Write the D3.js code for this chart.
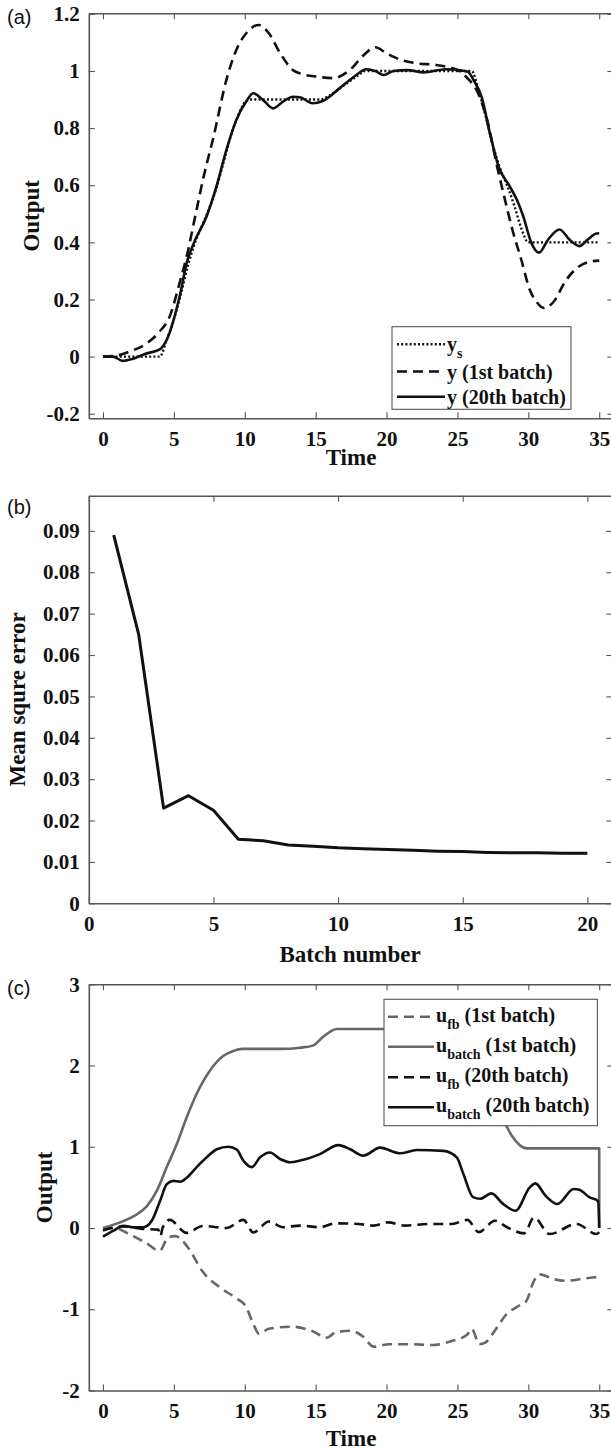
<!DOCTYPE html>
<html><head><meta charset="utf-8">
<script src="https://cdn.jsdelivr.net/npm/d3@7"></script>
<style>body{margin:0;background:#fff}svg{display:block}
.tick text{font-family:'Liberation Serif','Times New Roman',serif;font-weight:bold;font-size:21px}</style>
</head><body>
<script>
// ---------- (a) output tracking: [time, value]
const ysRef = [[0,0],[4,0],[4.5,0.06],[5,0.13],[5.5,0.22],[6,0.32],[6.5,0.4],[7,0.46],[7.5,0.52],[8,0.59],[8.5,0.68],[9,0.77],[9.5,0.84],[10,0.89],[10.4,0.9],[15.3,0.9],[16,0.915],[17,0.95],[18,0.985],[18.5,1],[26,1],[26.5,0.93],[27,0.84],[27.5,0.74],[28,0.66],[28.5,0.6],[29,0.53],[29.5,0.45],[30,0.4],[35,0.4]];
const yBatch1 = [[0,0],[1,0.004],[1.9,0.018],[3.1,0.047],[4,0.088],[4.7,0.14],[5.4,0.257],[5.9,0.35],[6.5,0.49],[7.1,0.63],[7.8,0.77],[8.7,0.968],[9.4,1.073],[10.1,1.132],[11,1.161],[11.7,1.132],[12.5,1.062],[13.4,1.003],[14,0.99],[15.1,0.98],[16.2,0.975],[17.4,1.003],[18.4,1.056],[19.2,1.083],[20,1.062],[21,1.039],[22.1,1.027],[23.5,1.021],[25,1.003],[25.7,0.975],[26.4,0.928],[27.1,0.828],[27.8,0.665],[28.3,0.56],[28.9,0.44],[29.5,0.34],[30.1,0.234],[30.6,0.19],[31.1,0.17],[31.8,0.193],[32.6,0.263],[33.4,0.309],[34.4,0.333],[35,0.336]];
const yBatch20 = [[0,0],[0.7,0],[1.4,-0.015],[2.1,-0.008],[3,0.01],[4,0.025],[4.6,0.07],[5.1,0.15],[5.45,0.22],[5.9,0.327],[6.5,0.408],[7.3,0.49],[8,0.595],[8.7,0.723],[9.4,0.828],[10.1,0.893],[10.6,0.922],[11.3,0.898],[12,0.869],[12.7,0.893],[13.4,0.91],[13.9,0.908],[14.8,0.887],[15.5,0.895],[16.7,0.94],[17.7,0.98],[18.6,1.006],[19.2,1.0],[19.8,0.986],[20.5,1.0],[21.5,1.003],[22.6,0.995],[24.2,1.006],[25.7,0.998],[26.2,0.963],[26.7,0.91],[27.3,0.78],[27.9,0.665],[28.7,0.595],[29.2,0.548],[29.65,0.49],[30.2,0.4],[30.75,0.364],[31.4,0.41],[32.2,0.445],[32.9,0.41],[33.6,0.387],[34.2,0.41],[34.8,0.431],[35,0.432]];
const timeTicks = [0,5,10,15,20,25,30,35];
const outputTicksA = [-0.2,0,0.2,0.4,0.6,0.8,1,1.2];

// ---------- (b) mean square error per batch
const batchNumbers = d3.range(1, 21);
const mseValues = [0.089,0.065,0.023,0.026,0.0225,0.0155,0.0151,0.0141,0.0138,0.0134,0.0132,0.013,0.0128,0.0126,0.0125,0.0123,0.0122,0.0122,0.0121,0.0121];
const batchTicks = [0,5,10,15,20];
const mseTicks = [0,0.01,0.02,0.03,0.04,0.05,0.06,0.07,0.08,0.09];

// ---------- (c) control inputs: [time, value]
const uFb1 = [[0,0],[0.75,0],[2,-0.09],[3,-0.18],[4,-0.28],[4.6,-0.115],[5.1,-0.1],[6,-0.24],[7,-0.53],[8.4,-0.75],[9.5,-0.875],[10.06,-0.96],[10.6,-1.18],[11,-1.3],[11.7,-1.24],[13.35,-1.215],[14.7,-1.265],[15.8,-1.35],[16.4,-1.285],[17.5,-1.265],[18.3,-1.33],[19.1,-1.46],[20.2,-1.43],[21.6,-1.43],[23.2,-1.44],[24.6,-1.39],[25.7,-1.31],[26,-1.24],[26.55,-1.43],[26.96,-1.41],[27.65,-1.26],[28.47,-1.06],[29.3,-0.96],[29.85,-0.9],[30.4,-0.65],[30.8,-0.57],[31.8,-0.63],[32.6,-0.65],[34,-0.62],[35,-0.6]];
const uBatch1 = [[0,0],[1.2,0.07],[2.4,0.17],[3.1,0.27],[3.8,0.46],[4.5,0.75],[5.2,1.03],[5.9,1.36],[6.6,1.65],[7.55,1.94],[8.5,2.12],[9.2,2.18],[9.8,2.205],[12.5,2.205],[13.9,2.22],[14.8,2.245],[15.5,2.35],[16.5,2.45],[26.3,2.45],[26.8,2.35],[27.3,2.1],[27.8,1.7],[28.2,1.38],[28.9,1.12],[29.4,1.02],[29.9,0.98],[35,0.98],[35,0]];
const uFb20 = [[0,-0.03],[1.44,0.02],[2.8,-0.01],[3.9,-0.02],[4.05,-0.1],[4.2,0.0],[4.7,0.1],[5.9,-0.06],[7.05,0.025],[8.7,0],[9.9,0.1],[10.6,-0.055],[11.7,0.08],[12.7,0.01],[13.9,0.03],[15.3,0.01],[16.4,0.057],[18,0.05],[19.1,0.03],[20.1,0.07],[21.3,0.03],[23,0.05],[24.6,0.05],[25.7,0.1],[26.5,-0.05],[27.65,0.09],[28.5,0.01],[29.7,-0.066],[30.4,0.13],[31.5,-0.074],[33.4,0.05],[34.8,-0.074],[35,-0.05]];
const uBatch20 = [[0,-0.107],[0.74,-0.033],[1.44,0.028],[2.15,0.008],[2.85,0.01],[3.44,0.09],[4.03,0.336],[4.5,0.54],[4.97,0.58],[5.44,0.57],[5.91,0.62],[6.61,0.75],[7.32,0.87],[8.03,0.97],[8.85,1.0],[9.44,0.965],[9.9,0.83],[10.5,0.75],[11.08,0.87],[11.78,0.93],[12.49,0.85],[13.2,0.81],[13.9,0.83],[15.3,0.91],[16.6,1.02],[17.43,0.97],[18.36,0.89],[19.54,0.99],[20.95,0.92],[22.13,0.96],[24,0.95],[24.95,0.87],[25.42,0.665],[26.1,0.38],[26.6,0.36],[27.4,0.426],[28.2,0.3],[29.1,0.213],[30.1,0.5],[30.5,0.55],[31.2,0.4],[32.05,0.295],[33.2,0.48],[33.6,0.47],[34.3,0.38],[34.93,0.33],[35,0]];
const outputTicksC = [-2,-1,0,1,2,3];

const SERIF = "'Liberation Serif','Times New Roman',serif";
const SANS = "'Liberation Sans',Arial,sans-serif";
const AXIS = "#555";
const GREY = "#676767";

const svg = d3.select("body").append("svg")
  .attr("width", 611).attr("height", 1450)
  .style("background", "#fff");

// boxed frame with inward ticks on all four sides
function frame(x, y, xt, yt, fmt) {
  const [x0, x1] = x.range(), [yb, yt0] = y.range();
  const g = svg.append("g");
  const styleAxis = sel => {
    sel.attr("font-family", SERIF).attr("font-size", 21).attr("font-weight", "bold");
    sel.selectAll(".domain").attr("stroke", AXIS).attr("stroke-width", 1.6);
    sel.selectAll(".tick line").attr("stroke", AXIS).attr("stroke-width", 1.1);
    sel.selectAll("text").attr("fill", "#111");
  };
  g.append("g").attr("transform", `translate(0,${yb})`)
    .call(d3.axisBottom(x).tickValues(xt).tickFormat(fmt).tickSize(-6).tickSizeOuter(0).tickPadding(13))
    .call(styleAxis);
  g.append("g").attr("transform", `translate(0,${yt0})`)
    .call(d3.axisTop(x).tickValues(xt).tickFormat("").tickSize(-6).tickSizeOuter(0))
    .call(styleAxis);
  g.append("g").attr("transform", `translate(${x0},0)`)
    .call(d3.axisLeft(y).tickValues(yt).tickFormat(fmt).tickSize(-6).tickSizeOuter(0).tickPadding(9))
    .call(styleAxis);
  g.append("g").attr("transform", `translate(${x1},0)`)
    .call(d3.axisRight(y).tickValues(yt).tickFormat("").tickSize(-6).tickSizeOuter(0))
    .call(styleAxis);
  return g;
}

function series(x, y, data, color, width, dash, curve) {
  const line = d3.line().x(d => x(d[0])).y(d => y(d[1])).curve(curve || d3.curveMonotoneX);
  svg.append("path").datum(data).attr("d", line)
    .attr("fill", "none").attr("stroke", color).attr("stroke-width", width)
    .attr("stroke-dasharray", dash || null).attr("stroke-linejoin", "round");
}

function title(text, x, y, rot) {
  const t = svg.append("text").attr("font-family", SERIF).attr("font-weight", "bold")
    .attr("font-size", 23).attr("text-anchor", "middle").attr("fill", "#111").text(text);
  if (rot) t.attr("transform", `translate(${x},${y}) rotate(-90)`);
  else t.attr("x", x).attr("y", y);
}

function panelTag(text, y) {
  svg.append("text").attr("x", 7).attr("y", y).attr("font-family", SANS)
    .attr("font-size", 20).attr("fill", "#111").text(text);
}

// plain hyphen minus, shortest decimal form
const numFmt = d => String(+d.toFixed(4));
const DOT = "2,2.2", DASH = "10,6";

// ================= (a)
const xA = d3.scaleLinear().domain([-1, 36]).range([88.8, 613.4]);
const yA = d3.scaleLinear().domain([-0.216, 1.202]).range([418.3, 13.3]);
frame(xA, yA, timeTicks, outputTicksA, numFmt);
series(xA, yA, ysRef, "#111", 2.4, DOT);
series(xA, yA, yBatch1, "#111", 2.6, DASH);
series(xA, yA, yBatch20, "#111", 2.6);
title("Time", 351, 465);
title("Output", 39, 215.8, true);
panelTag("(a)", 24);

// legend (a)
const legA = svg.append("g");
legA.append("rect").attr("x", 392).attr("y", 326.7).attr("width", 179).attr("height", 82.6)
  .attr("fill", "#fff").attr("stroke", AXIS).attr("stroke-width", 1.1);
const legAItems = [
  {dash: DOT, w: 2.4, main: "y", sub: "s"},
  {dash: DASH, w: 2.6, main: "y (1st batch)", sub: ""},
  {dash: null, w: 2.6, main: "y (20th batch)", sub: ""}
];
const legARows = [344.3, 371.5, 396.7];
legAItems.forEach((it, i) => {
  const cy = legARows[i];
  legA.append("line").attr("x1", 397).attr("x2", 445).attr("y1", cy).attr("y2", cy)
    .attr("stroke", "#111").attr("stroke-width", it.w).attr("stroke-dasharray", it.dash);
  const t = legA.append("text").attr("x", 447).attr("y", cy + 7)
    .attr("font-family", SERIF).attr("font-weight", "bold").attr("font-size", 20).attr("fill", "#111");
  t.append("tspan").text(it.main);
  if (it.sub) t.append("tspan").attr("dy", 7).attr("font-size", 14).text(it.sub);
});

// ================= (b)
const xB = d3.scaleLinear().domain([0, 21]).range([88.8, 612.3]);
const yB = d3.scaleLinear().domain([0, 0.0985]).range([903.3, 495.7]);
frame(xB, yB, batchTicks, mseTicks, numFmt);
series(xB, yB, batchNumbers.map((b, i) => [b, mseValues[i]]), "#111", 3, null, d3.curveLinear);
title("Batch number", 350, 962);
title("Mean squre error", 25, 699.5, true);
panelTag("(b)", 514);

// ================= (c)
const xC = d3.scaleLinear().domain([-1, 36]).range([88.8, 613.4]);
const yC = d3.scaleLinear().domain([-2, 3]).range([1390.5, 984.3]);
frame(xC, yC, timeTicks, outputTicksC, numFmt);
series(xC, yC, uFb1, GREY, 2.6, DASH);
series(xC, yC, uBatch1, GREY, 2.6);
series(xC, yC, uFb20, "#111", 2.6, DASH);
series(xC, yC, uBatch20, "#111", 2.6);
title("Time", 351, 1446);
title("Output", 52, 1187.4, true);
panelTag("(c)", 995);

// legend (c)
const legC = svg.append("g");
legC.append("rect").attr("x", 384).attr("y", 999.3).attr("width", 213.4).attr("height", 126.4)
  .attr("fill", "#fff").attr("stroke", AXIS).attr("stroke-width", 1.1);
const legCItems = [
  {color: GREY, dash: DASH, sub: "fb", rest: " (1st batch)"},
  {color: GREY, dash: null, sub: "batch", rest: " (1st batch)"},
  {color: "#111", dash: DASH, sub: "fb", rest: " (20th batch)"},
  {color: "#111", dash: null, sub: "batch", rest: " (20th batch)"}
];
const legCRows = [1016.7, 1046.7, 1077.3, 1107.3];
legCItems.forEach((it, i) => {
  const cy = legCRows[i];
  legC.append("line").attr("x1", 388).attr("x2", 434).attr("y1", cy).attr("y2", cy)
    .attr("stroke", it.color).attr("stroke-width", 2.6).attr("stroke-dasharray", it.dash);
  const t = legC.append("text").attr("x", 436).attr("y", cy + 5)
    .attr("font-family", SERIF).attr("font-weight", "bold").attr("font-size", 20).attr("fill", "#111");
  t.append("tspan").text("u");
  t.append("tspan").attr("dy", 7).attr("font-size", 14).text(it.sub);
  t.append("tspan").attr("dy", -7).text(it.rest);
});
</script>
</body></html>
